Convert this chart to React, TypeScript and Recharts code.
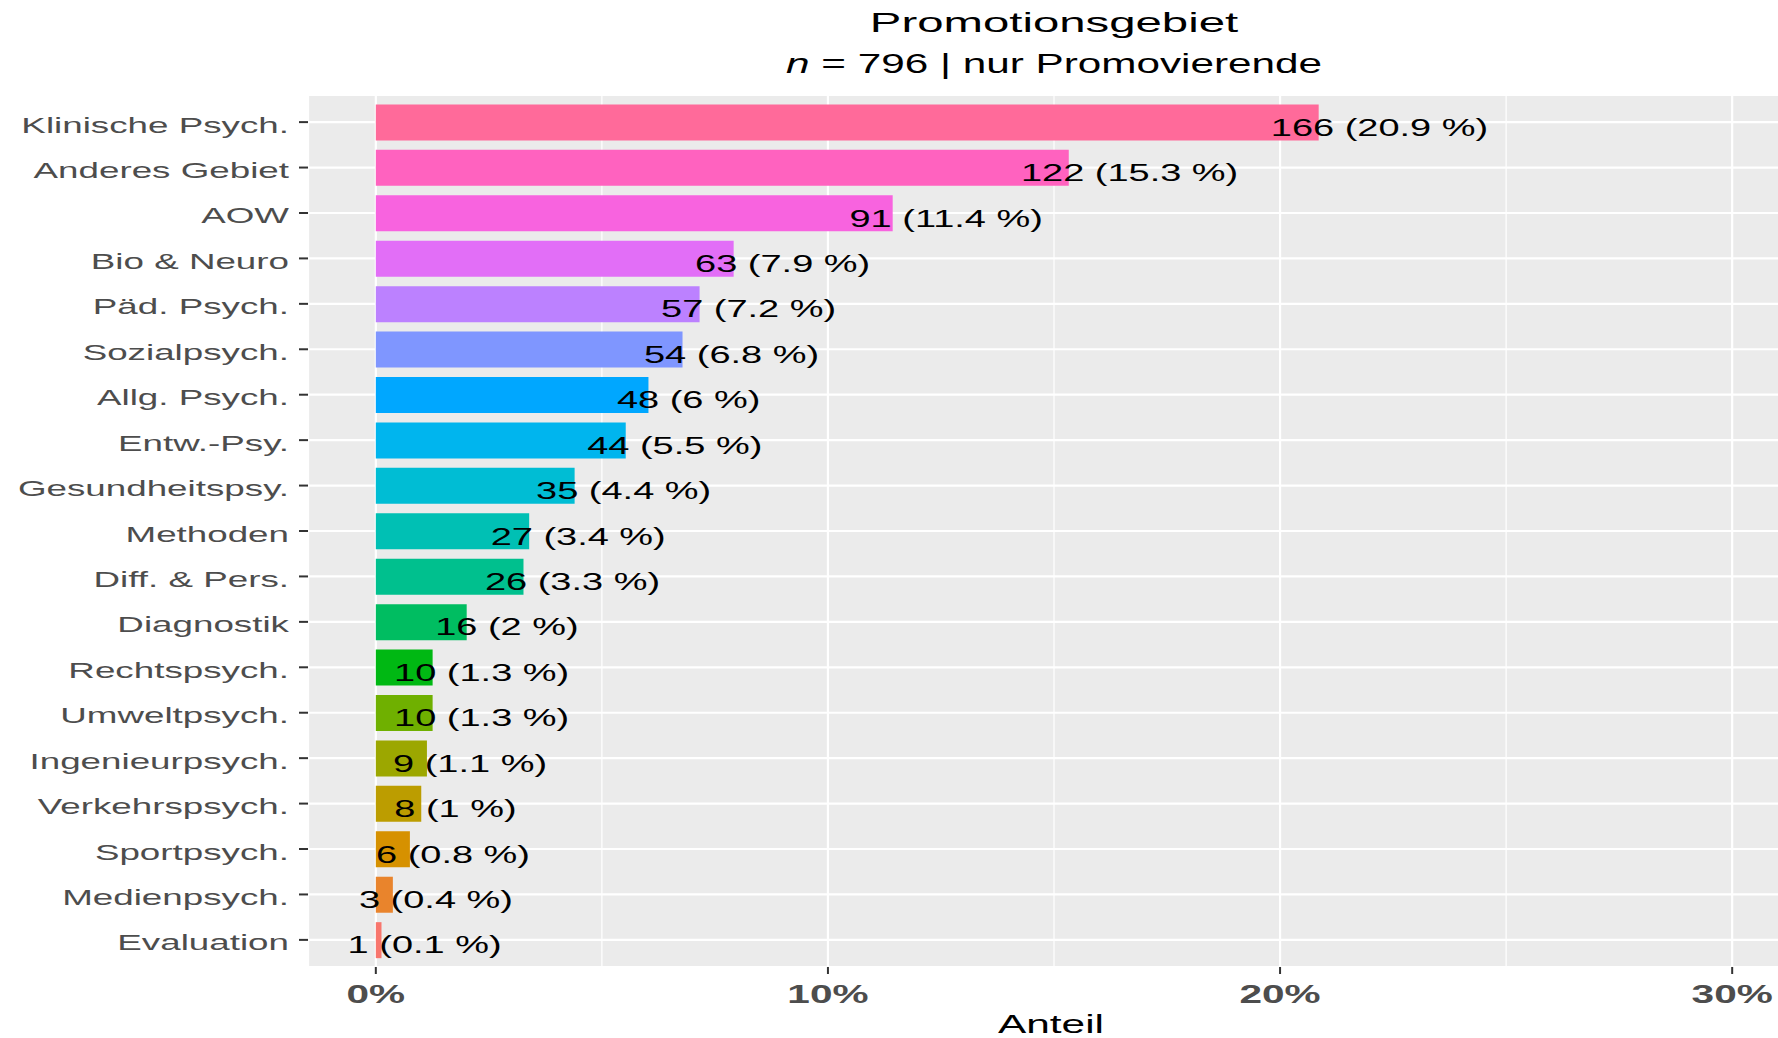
import React from 'react';
import { BarChart, Bar, XAxis, YAxis, CartesianGrid, Cell, LabelList, ReferenceLine } from 'recharts';

// data (top to bottom)
const categories = [
  'Klinische Psych.', 'Anderes Gebiet', 'AOW', 'Bio & Neuro', 'Päd. Psych.', 'Sozialpsych.',
  'Allg. Psych.', 'Entw.-Psy.', 'Gesundheitspsy.', 'Methoden', 'Diff. & Pers.', 'Diagnostik',
  'Rechtspsych.', 'Umweltpsych.', 'Ingenieurpsych.', 'Verkehrspsych.', 'Sportpsych.',
  'Medienpsych.', 'Evaluation',
];
const counts = [166, 122, 91, 63, 57, 54, 48, 44, 35, 27, 26, 16, 10, 10, 9, 8, 6, 3, 1];
const pctLabels = ['20.9', '15.3', '11.4', '7.9', '7.2', '6.8', '6', '5.5', '4.4', '3.4', '3.3', '2', '1.3', '1.3', '1.1', '1', '0.8', '0.4', '0.1'];
const total = 796;
const majorTicks = [0, 10, 20, 30];
const minorTicks = [5, 15, 25];

const FONT = '"Liberation Sans", Arial, sans-serif';

// ggplot-like hue palette (hcl, c = 100, l = 65)
const hcl = (h: number, c = 100, l = 65) => {
  const hr = (h * Math.PI) / 180;
  const U = c * Math.cos(hr);
  const V = c * Math.sin(hr);
  const Xn = 95.047, Yn = 100, Zn = 108.883;
  const un = (4 * Xn) / (Xn + 15 * Yn + 3 * Zn);
  const vn = (9 * Yn) / (Xn + 15 * Yn + 3 * Zn);
  const Y = l > 8 ? Yn * Math.pow((l + 16) / 116, 3) : (Yn * l) / 903.3;
  const u = U / (13 * l) + un;
  const v = V / (13 * l) + vn;
  const X = (9 * Y * u) / (4 * v);
  const Z = (3 * Y) / v - X / 3 - 5 * Y;
  const lin = [
    3.240479 * X - 1.53715 * Y - 0.498535 * Z,
    -0.969256 * X + 1.875992 * Y + 0.041556 * Z,
    0.055648 * X - 0.204043 * Y + 1.057311 * Z,
  ].map(t => t / 100);
  const g = lin.map(t => (t > 0.00304 ? 1.055 * Math.pow(t, 1 / 2.4) - 0.055 : 12.92 * t));
  return '#' + g.map(t => Math.round(Math.min(1, Math.max(0, t)) * 255).toString(16).padStart(2, '0')).join('');
};
const n = categories.length;
const palette = categories.map((_, i) => hcl(15 + (i * 360) / n));

const rows = categories.map((name, i) => ({
  name,
  share: (counts[i] / total) * 100,
  label: `${counts[i]} (${pctLabels[i]} %)`,
  color: palette[n - 1 - i],
}));

// Arial advance widths (per 1000 em) for label text
const adv: Record<string, number> = { ' ': 278, '(': 333, ')': 333, '.': 278, '%': 889 };
const textWidth = (s: string, fs: number) =>
  s.split('').reduce((sum, ch) => sum + (adv[ch] ?? 556), 0) * fs / 1000;

const LBL_FS = 24.5;
const LBL_SX = 1.55;

const ValueLabel = (props: any) => {
  const { x, y, width, height, value } = props;
  const w = textWidth(String(value), LBL_FS) * LBL_SX;
  const start = x + width - 0.22 * w;
  const base = y + height / 2 + LBL_FS * 0.36 + 4.5;
  return (
    <text transform={`translate(${start},${base}) scale(${LBL_SX},1)`} fontSize={LBL_FS} fontFamily={FONT} fill="#000">
      {value}
    </text>
  );
};

const YTick = (props: any) => {
  const { x, y, payload } = props;
  return (
    <text transform={`translate(${x},${y + 10.5}) scale(1.71,1)`} textAnchor="end" fontSize={21.5} fontFamily={FONT} fill="#4D4D4D">
      {payload.value}
    </text>
  );
};

const XTick = (props: any) => {
  const { x, y, payload } = props;
  return (
    <text transform={`translate(${x},${y + 27}) scale(1.56,1)`} textAnchor="middle" fontSize={26} fontWeight="bold" fontFamily={FONT} fill="#4D4D4D">
      {`${payload.value}%`}
    </text>
  );
};

const AxisTitle = (props: any) => {
  const { viewBox } = props;
  const cx = viewBox.x + viewBox.width / 2 - 3;
  return (
    <text transform={`translate(${cx},${viewBox.y + 66}) scale(1.63,1)`} textAnchor="middle" fontSize={26} fontFamily={FONT} fill="#000">
      Anteil
    </text>
  );
};

export default function App() {
  return (
    <div style={{ position: 'absolute', left: 0, top: 0, width: 1778, height: 1038, overflow: 'hidden', background: '#fff', fontFamily: FONT }}>
      <div style={{ position: 'absolute', left: 1054, top: 9, fontSize: 28, lineHeight: '28px', color: '#000', whiteSpace: 'nowrap', transform: 'translateX(-50%) scaleX(1.69)' }}>
        Promotionsgebiet
      </div>
      <div style={{ position: 'absolute', left: 1054, top: 50.5, fontSize: 27, lineHeight: '27px', color: '#000', whiteSpace: 'nowrap', transform: 'translateX(-50%) scaleX(1.565)' }}>
        <span style={{ fontStyle: 'italic' }}>n</span> = 796 | nur Promovierende
      </div>
      <BarChart
        width={1800}
        height={1038}
        data={rows}
        layout="vertical"
        margin={{ top: 95, right: 0, bottom: 0, left: 0 }}
        style={{ position: 'absolute', left: 0, top: 0 }}
      >
        <CartesianGrid fill="#EBEBEB" stroke="#FFFFFF" strokeWidth={2.2} />
        {minorTicks.map(t => (
          <ReferenceLine key={t} x={t} stroke="#FFFFFF" strokeWidth={1.2} zIndex={-50} />
        ))}
        <XAxis
          type="number"
          domain={[-1.5, 31.5]}
          ticks={majorTicks}
          height={71}
          tickSize={7}
          axisLine={false}
          tickLine={{ stroke: '#333333', strokeWidth: 2 }}
          tick={XTick}
          label={{ value: 'Anteil', content: AxisTitle }}
        />
        <YAxis
          type="category"
          dataKey="name"
          width={308}
          tickSize={9}
          tickMargin={10}
          interval={0}
          axisLine={false}
          tickLine={{ stroke: '#333333', strokeWidth: 2 }}
          tick={YTick}
          padding={{ top: 4.4, bottom: 4.4 }}
        />
        <Bar dataKey="share" barSize={36} isAnimationActive={false}>
          {rows.map(r => (
            <Cell key={r.name} fill={r.color} />
          ))}
          <LabelList dataKey="label" content={ValueLabel} />
        </Bar>
      </BarChart>
    </div>
  );
}
